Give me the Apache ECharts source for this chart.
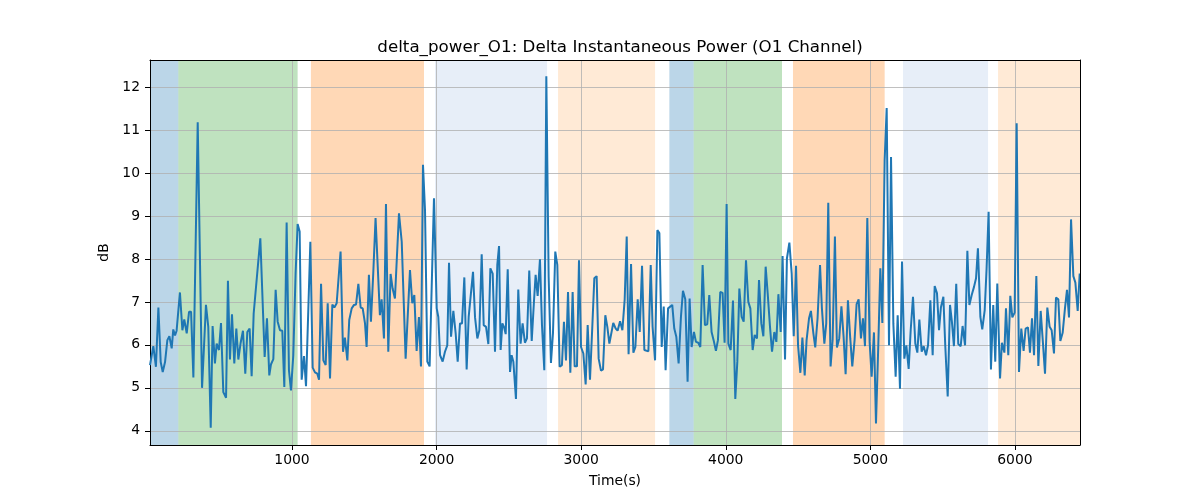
<!DOCTYPE html>
<html><head><meta charset="utf-8">
<script src="https://cdn.jsdelivr.net/npm/echarts@6/dist/echarts.min.js"></script>
<style>html,body{margin:0;padding:0;background:#fff}#c{width:1200px;height:500px}</style>
</head><body><div id="c"></div>
<script>
const chartTitle = 'delta_power_O1: Delta Instantaneous Power (O1 Channel)';
const xTicks = [1000, 2000, 3000, 4000, 5000, 6000];
const yTicks = [4, 5, 6, 7, 8, 9, 10, 11, 12];
const xRange = [18, 6450];
const yRange = [3.67, 12.63];

// shaded segments: [start, end, colour key]
const regions = [
  [18, 214, 'blue'], [214, 1039, 'green'], [1131, 1913, 'orange'],
  [1989, 2764, 'lightblue'], [2840, 3511, 'lightorange'], [3610, 3778, 'blue'],
  [3778, 4389, 'green'], [4465, 5099, 'orange'], [5226, 5814, 'lightblue'],
  [5883, 6450, 'lightorange']
];
const regionColors = {
  blue: 'rgba(31,119,180,0.3)', green: 'rgba(44,160,44,0.3)', orange: 'rgba(255,127,14,0.3)',
  lightblue: 'rgba(174,199,232,0.3)', lightorange: 'rgba(255,187,120,0.3)'
};

// [time (s), dB]
const deltaPowerO1 = [
 [18,5.53],[41,5.97],[59,5.49],[76,6.87],[92,5.6],[106,5.37],[122,5.6],[138,6.11],[152,6.2],[168,5.92],
 [179,6.36],[191,6.22],[202,6.33],[225,7.22],[242,6.34],[255,6.59],[272,6.27],[288,6.77],[302,6.77],[318,5.24],
 [348,11.18],[378,5.0],[405,6.93],[421,6.42],[438,4.07],[451,6.44],[467,5.57],[479,6.03],[495,5.88],[509,6.51],
 [525,4.9],[544,4.77],[557,7.49],[571,5.66],[585,6.71],[601,5.57],[615,6.38],[629,5.66],[645,6.05],[661,6.33],
 [677,5.33],[691,6.30],[707,6.38],[721,5.27],[735,6.73],[781,8.48],[811,5.72],[827,6.62],[843,5.29],
 [855,5.55],[871,5.67],[887,7.28],[901,6.54],[917,6.34],[933,6.33],[947,5.02],[963,8.85],[979,5.41],[993,4.94],
 [1009,5.76],[1025,7.66],[1039,8.81],[1053,8.64],[1067,5.19],[1083,5.74],[1097,5.04],[1127,8.40],[1143,5.47],[1159,5.36],
 [1175,5.33],[1187,5.19],[1201,7.42],[1217,5.64],[1233,5.53],[1247,6.97],[1263,5.22],[1279,6.94],[1293,6.87],[1309,6.97],
 [1336,8.17],[1353,5.84],[1366,6.17],[1383,5.64],[1396,6.58],[1413,6.85],[1429,6.93],[1443,6.94],[1459,7.42],[1475,6.87],
 [1489,6.85],[1505,6.5],[1516,5.95],[1532,7.63],[1546,6.54],[1562,7.66],[1578,8.95],[1592,7.9],[1608,6.69],[1620,7.06],[1636,6.15],
 [1650,9.28],[1666,5.84],[1682,7.65],[1696,7.31],[1712,7.08],[1740,9.06],[1759,8.40],[1786,5.68],[1816,7.74],[1832,6.97],
 [1846,7.16],[1862,5.86],[1878,6.65],[1892,5.50],[1906,10.19],[1920,9.14],[1936,5.61],[1952,5.50],[1982,9.41],[2001,6.85],
 [2012,6.65],[2024,5.76],[2042,5.61],[2058,5.84],[2074,5.99],[2086,7.91],[2100,6.19],[2116,6.79],[2132,6.27],[2146,5.61],
 [2162,6.50],[2176,6.50],[2192,7.57],[2208,5.43],[2222,6.65],[2252,7.70],[2266,6.64],[2282,6.15],[2296,6.34],[2312,8.11],
 [2326,6.46],[2342,6.42],[2358,6.02],[2372,7.78],[2388,7.66],[2404,5.84],[2420,7.86],[2432,8.30],
 [2443,5.88],[2455,6.50],[2466,6.42],[2478,6.25],[2492,7.76],[2508,5.37],[2519,5.76],[2531,5.61],[2549,4.74],[2565,7.29],
 [2581,6.03],[2595,6.50],[2611,6.05],[2625,6.15],[2641,7.73],[2658,6.09],[2674,7.04],[2685,7.63],[2699,7.14],[2715,7.99],
 [2729,6.46],[2745,5.41],[2759,12.25],[2775,7.59],[2791,5.58],[2805,6.27],[2821,8.17],[2835,7.86],[2851,5.49],[2867,5.53],
 [2881,6.54],[2895,5.64],[2909,7.23],[2925,5.35],[2941,7.23],[2955,5.50],[2971,5.50],[2985,7.97],[2999,5.95],[3015,5.80],
 [3031,5.08],[3045,6.46],[3061,5.19],[3077,6.42],[3091,7.55],[3107,7.60],[3121,5.68],[3137,5.40],[3151,5.43],[3167,6.69],
 [3181,6.42],[3195,6.03],
 [3222,6.51],[3239,6.38],[3252,6.33],[3269,6.55],[3285,6.34],[3301,7.06],[3315,8.52],[3328,5.78],[3345,7.88],[3361,5.82],
 [3375,5.95],[3391,7.06],[3405,6.30],[3421,7.84],[3437,5.88],[3465,5.85],[3481,7.86],[3494,6.42],[3511,5.64],[3527,8.67],
 [3541,8.60],[3557,5.95],[3571,6.89],[3584,5.41],[3601,6.85],[3614,6.85],[3630,6.93],[3644,6.38],[3658,6.19],[3674,5.57],
 [3690,6.65],[3704,7.26],[3720,7.06],[3736,5.14],[3750,7.08],[3764,5.95],[3780,6.30],[3794,6.07],[3810,6.05],[3824,5.95],
 [3840,7.86],[3856,6.46],[3872,6.48],[3886,7.16],[3902,6.30],[3916,6.11],[3932,5.86],[3946,6.11],[3962,7.23],[3978,7.21],
 [3992,6.05],[4006,9.28],
 [4018,6.03],[4034,5.88],[4050,7.03],[4066,4.74],[4080,5.61],[4094,7.31],[4110,6.65],[4124,6.54],[4140,7.97],[4156,7.00],
 [4170,6.85],[4186,5.88],[4200,6.23],[4216,6.15],[4230,7.51],[4246,6.50],[4260,6.20],[4276,7.82],[4290,7.20],[4306,6.42],
 [4320,5.84],[4336,6.30],[4350,6.07],[4364,7.18],[4380,6.30],[4393,8.07],[4410,5.66],[4423,8.01],[4440,8.38],[4456,7.66],
 [4470,6.20],[4486,7.84],[4500,5.99],[4516,5.35],[4530,6.17],[4546,5.29],[4559,6.11],[4576,6.62],[4589,6.79],[4606,6.27],
 [4619,5.94],[4635,6.62],[4652,7.86],[4665,6.85],[4682,6.03],[4695,6.50],[4709,9.31],[4725,5.50],[4739,6.11],[4755,8.52],
 [4769,5.94],[4785,6.15],[4800,6.9],[4815,6.19],
 [4829,5.32],[4845,7.04],[4861,6.15],[4875,5.50],[4891,6.11],[4905,6.95],[4919,7.06],[4935,6.15],[4949,6.62],[4963,5.97],
 [4979,8.95],[4995,6.07],[5009,5.26],[5025,6.29],[5039,4.17],[5055,5.99],[5069,7.78],[5083,6.51],[5099,10.30],[5113,11.51],
 [5129,5.99],[5143,10.37],[5159,6.50],[5175,5.26],[5189,6.69],[5205,4.98],[5219,7.94],[5235,5.68],[5249,5.99],[5265,5.44],
 [5279,6.34],[5295,7.12],[5311,6.03],[5325,5.82],[5339,6.59],[5355,5.84],[5369,5.97],[5385,5.76],[5399,5.99],[5415,7.04],
 [5431,5.76],[5445,7.37],[5461,7.20],[5475,6.34],[5488,6.87],[5505,7.12],[5518,5.99],[5535,4.80],[5551,6.93],[5564,6.54],
 [5578,5.97],[5594,7.42],
 [5608,6.02],[5625,5.97],[5638,6.44],[5655,5.99],[5671,8.19],[5685,6.93],[5701,7.16],[5717,7.35],[5731,7.55],[5744,8.25],
 [5761,6.65],[5774,6.36],[5791,6.81],[5804,7.78],[5818,9.10],[5834,5.43],[5850,6.93],[5864,5.61],[5878,7.43],[5897,5.22],
 [5910,6.05],[5927,5.82],[5938,6.85],[5954,5.76],[5968,7.14],[5982,6.64],[5998,6.75],[6012,11.16],[6028,5.37],[6044,6.38],
 [6060,5.86],[6074,6.38],[6090,6.41],[6104,5.82],[6118,6.62],[6132,5.76],[6148,7.60],[6162,5.51],[6178,6.79],[6194,6.03],
 [6208,5.33],[6224,6.87],[6240,6.42],[6254,6.34],[6270,5.80],[6284,7.10],[6300,7.06],[6314,6.09],[6330,6.28],[6346,6.85],
 [6360,7.28],[6374,6.64],[6388,8.92],[6404,7.60],[6418,7.45],[6434,6.79],[6448,7.66]
];

const FONT = 'DejaVu Sans';
const chart = echarts.init(document.getElementById('c'), null, {renderer: 'canvas'});
const labelStyle = {color: '#000', fontSize: 13.9, fontFamily: FONT};
chart.setOption({
  animation: false,
  backgroundColor: '#fff',
  title: {
    text: chartTitle, left: 615, top: 34, textAlign: 'center',
    textStyle: {color: '#000', fontSize: 16.7, fontWeight: 'normal', fontFamily: FONT}
  },
  grid: {left: 150, right: 120, top: 60, bottom: 55, containLabel: false},
  xAxis: [{
    type: 'value', min: xRange[0], max: xRange[1], z: 1,
    name: 'Time(s)', nameLocation: 'middle', nameGap: 29,
    nameTextStyle: labelStyle,
    axisLine: {show: true, onZero: false, lineStyle: {color: '#000', width: 1}},
    axisTick: {show: true, customValues: xTicks, length: 5, lineStyle: {color: '#000', width: 1}},
    axisLabel: Object.assign({customValues: xTicks, margin: 8, formatter: v => String(v)}, labelStyle),
    splitLine: {show: true, lineStyle: {color: '#b0b0b0', width: 0.8}}
  }, {
    type: 'value', position: 'top', min: xRange[0], max: xRange[1], z: 3,
    axisLine: {show: true, onZero: false, lineStyle: {color: '#000', width: 1}},
    axisTick: {show: false}, axisLabel: {show: false}, splitLine: {show: false}
  }],
  yAxis: [{
    type: 'value', min: yRange[0], max: yRange[1], z: 1,
    name: 'dB', nameLocation: 'middle', nameGap: 36,
    nameTextStyle: labelStyle,
    axisLine: {show: true, onZero: false, lineStyle: {color: '#000', width: 1}},
    axisTick: {show: true, customValues: yTicks, length: 5, lineStyle: {color: '#000', width: 1}},
    axisLabel: Object.assign({customValues: yTicks, margin: 10, formatter: v => String(v)}, labelStyle),
    splitLine: {show: true, lineStyle: {color: '#b0b0b0', width: 0.8}}
  }, {
    type: 'value', position: 'right', min: yRange[0], max: yRange[1], z: 3,
    axisLine: {show: true, onZero: false, lineStyle: {color: '#000', width: 1}},
    axisTick: {show: false}, axisLabel: {show: false}, splitLine: {show: false}
  }],
  series: [{
    type: 'line', data: [], z: 0, silent: true,
    markArea: {
      silent: true, z: 0,
      data: regions.map(r => [
        {xAxis: r[0], itemStyle: {color: regionColors[r[2]]}},
        {xAxis: r[1]}
      ])
    }
  }, {
    type: 'line', data: deltaPowerO1, z: 2, showSymbol: false, symbol: 'none',
    lineStyle: {color: '#1f77b4', width: 2}, clip: true
  }]
});
</script></body></html>
